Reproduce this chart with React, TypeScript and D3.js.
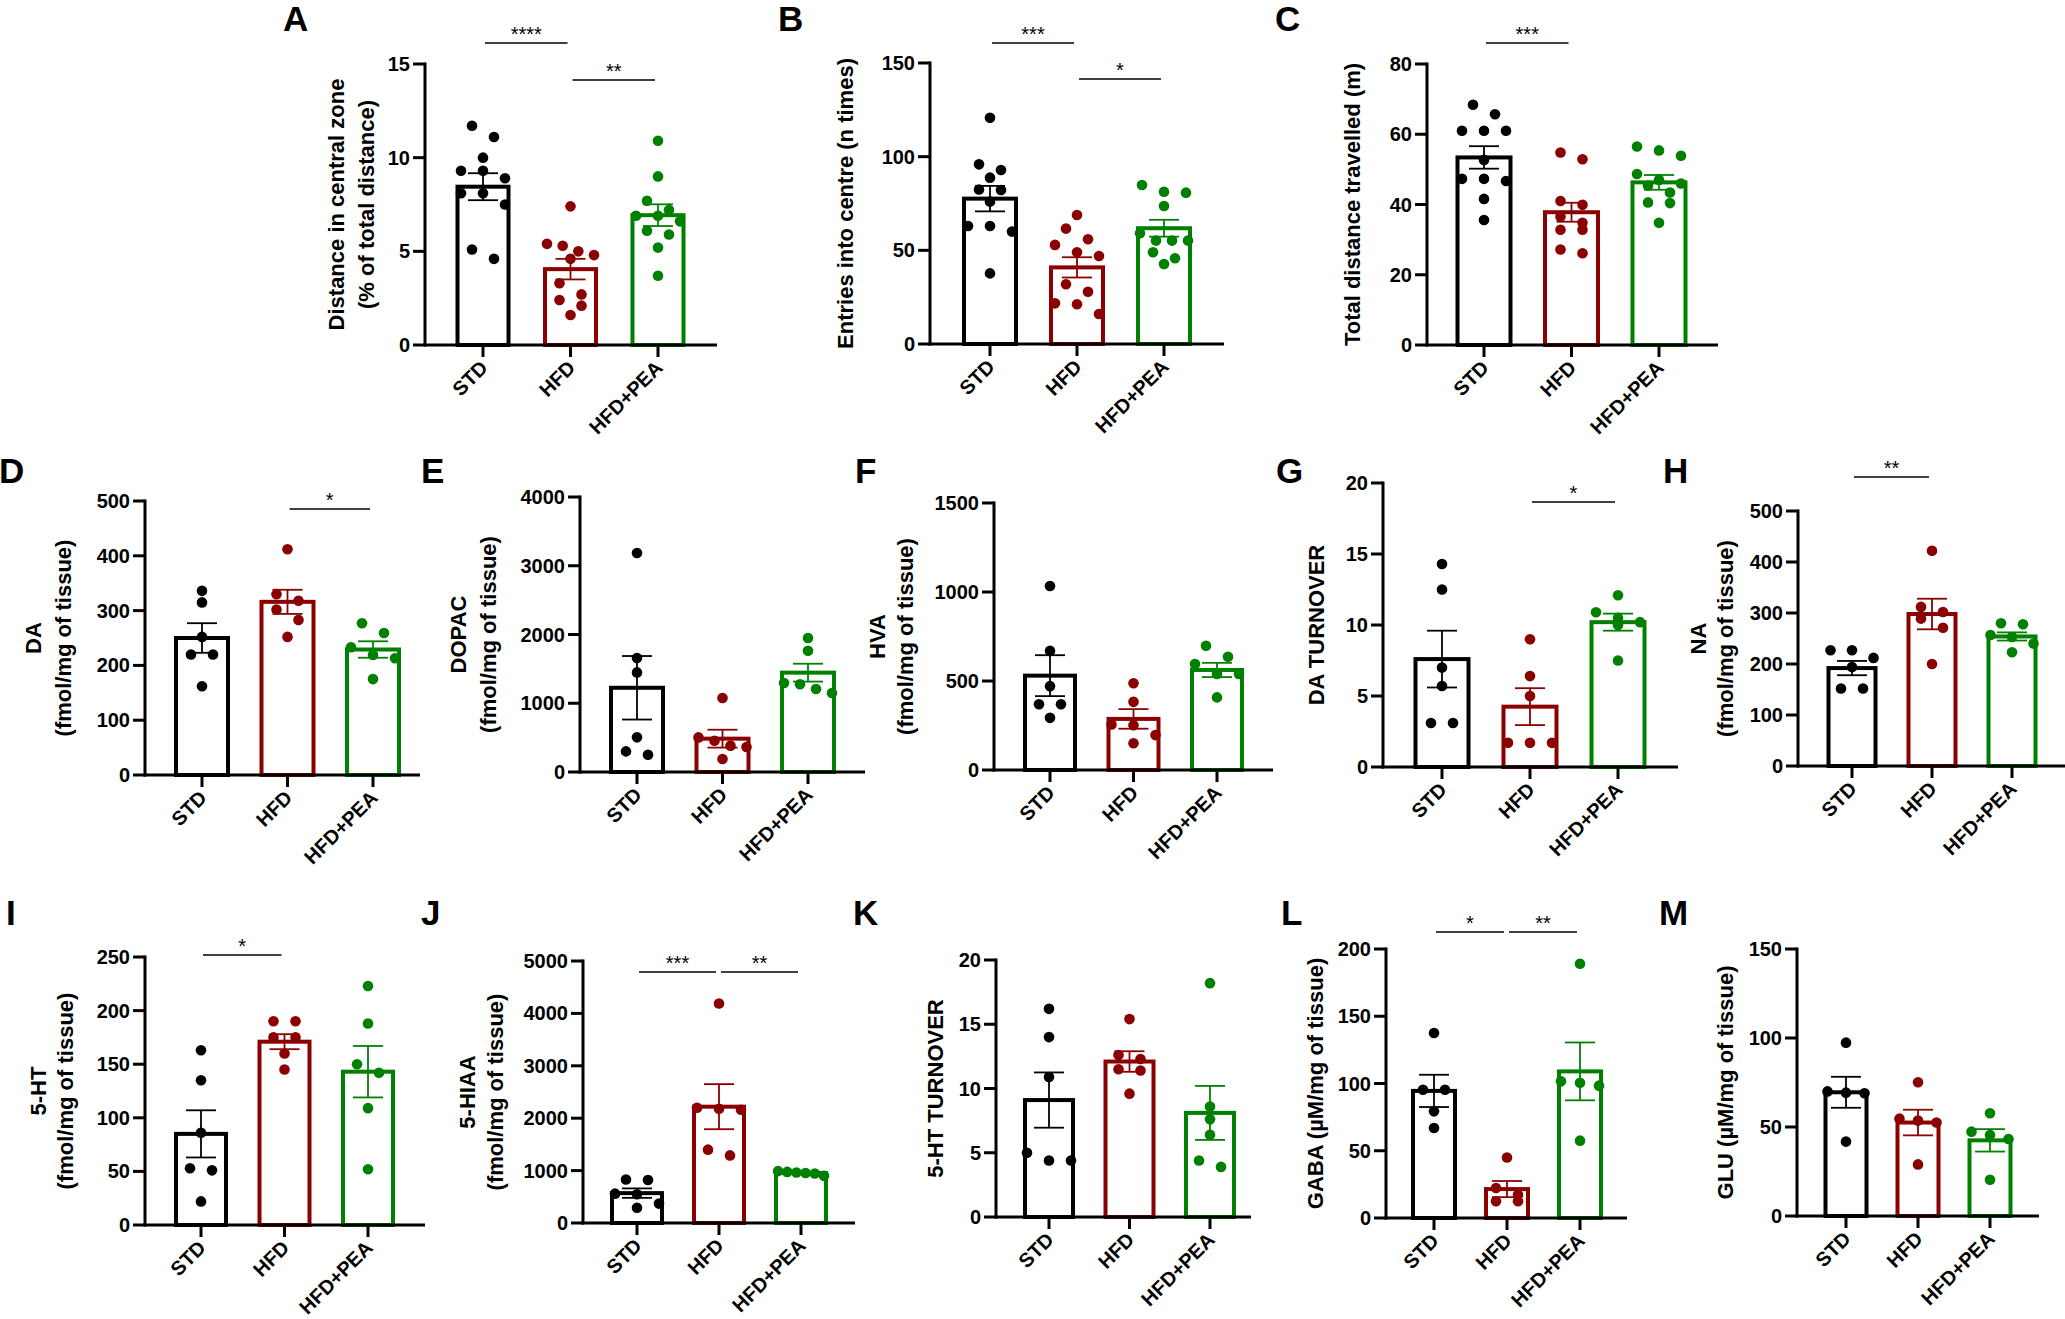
import * as d3 from "d3";
import React from "react";

const groups = ["STD", "HFD", "HFD+PEA"];
const groupColors = ["#000000", "#8b0000", "#008000"];

// A - distance in central zone
const aPoints = [
  [11.7, 11.1, 10.0, 9.3, 9.3, 8.9, 8.1, 8.1, 7.5, 5.1, 4.6],
  [7.4, 5.4, 5.3, 5.0, 4.8, 4.6, 3.3, 2.7, 2.4, 2.1, 1.6],
  [10.9, 9.0, 7.7, 7.2, 6.9, 6.9, 6.6, 6.1, 5.9, 5.2, 3.7],
];
const aMean = [8.45, 4.05, 6.93];
const aSem = [0.72, 0.55, 0.58];
const aTicks = [0, 5, 10, 15];
const aSig: [number, number, string][] = [[0, 1, "****"], [1, 2, "**"]];

// B - entries into centre
const bPoints = [
  [120.8, 95.9, 92.9, 88.8, 82.5, 82.2, 76.0, 63.0, 63.0, 60.0, 37.7],
  [68.9, 61.6, 55.9, 52.9, 49.0, 47.0, 31.9, 27.9, 21.7, 21.2, 16.0],
  [84.9, 81.3, 80.8, 73.7, 59.1, 55.2, 55.2, 55.2, 49.0, 45.8, 42.7],
];
const bMean = [77.6, 40.9, 61.8];
const bSem = [6.8, 5.4, 4.5];
const bTicks = [0, 50, 100, 150];
const bSig: [number, number, string][] = [[0, 1, "***"], [1, 2, "*"]];

// C - total distance
const cPoints = [
  [68.4, 65.7, 61.0, 61.0, 61.0, 52.7, 47.3, 47.3, 46.7, 41.6, 35.6],
  [54.8, 52.9, 41.0, 39.9, 36.6, 34.8, 32.8, 32.8, 27.2, 26.1],
  [56.5, 55.4, 53.9, 48.7, 47.0, 46.0, 45.4, 43.4, 40.6, 40.4, 34.8],
];
const cMean = [53.4, 37.8, 46.3];
const cSem = [3.2, 2.7, 2.1];
const cTicks = [0, 20, 40, 60, 80];
const cSig: [number, number, string][] = [[0, 1, "***"]];

// D - DA
const dPoints = [
  [336, 315, 252, 220, 220, 162],
  [412, 330, 318, 302, 283, 252],
  [277, 259, 233, 219, 213, 175],
];
const dMean = [250, 316, 229];
const dSem = [27, 22, 15];
const dTicks = [0, 100, 200, 300, 400, 500];
const dSig: [number, number, string][] = [[1, 2, "*"]];

// E - DOPAC
const ePoints = [
  [3185, 1658, 1449, 504, 300, 252],
  [1076, 503, 455, 383, 364, 189],
  [1949, 1764, 1294, 1277, 1207, 1149],
];
const eMean = [1225, 485, 1445];
const eSem = [462, 130, 130];
const eTicks = [0, 1000, 2000, 3000, 4000];

// F - HVA
const fPoints = [
  [1034, 669, 471, 369, 369, 293],
  [487, 383, 256, 251, 196, 150],
  [698, 636, 595, 539, 539, 408],
];
const fMean = [530, 287, 562];
const fSem = [115, 55, 40];
const fTicks = [0, 500, 1000, 1500];

// G - DA turnover
const gPoints = [
  [14.3, 12.5, 7.0, 5.7, 3.1, 3.1],
  [9.0, 6.4, 5.0, 1.7, 1.7, 1.7],
  [12.1, 10.9, 10.5, 10.2, 10.0, 7.5],
];
const gMean = [7.6, 4.25, 10.2];
const gSem = [2.0, 1.3, 0.6];
const gTicks = [0, 5, 10, 15, 20];
const gSig: [number, number, string][] = [[1, 2, "*"]];

// H - NA
const hPoints = [
  [227, 227, 212, 194, 152, 152],
  [422, 312, 302, 289, 271, 200],
  [280, 278, 257, 253, 240, 223],
];
const hMean = [192, 298, 254];
const hSem = [14, 30, 8];
const hTicks = [0, 100, 200, 300, 400, 500];
const hSig: [number, number, string][] = [[0, 1, "**"]];

// I - 5-HT
const iPoints = [
  [163, 135, 86, 53, 51, 22],
  [190, 190, 175, 175, 160, 145],
  [223, 188, 150, 142, 109, 52],
];
const iMean = [85, 171, 143];
const iSem = [22, 7, 24];
const iTicks = [0, 50, 100, 150, 200, 250];
const iSig: [number, number, string][] = [[0, 1, "*"]];

// J - 5-HIAA
const jPoints = [
  [830, 820, 560, 550, 370, 290],
  [4190, 2200, 2180, 2160, 1400, 1290],
  [990, 975, 965, 955, 945, 900],
];
const jMean = [570, 2220, 955];
const jSem = [90, 430, 15];
const jTicks = [0, 1000, 2000, 3000, 4000, 5000];
const jSig: [number, number, string][] = [[0, 1, "***"], [1, 2, "**"]];

// K - 5-HT turnover
const kPoints = [
  [16.2, 14.0, 10.9, 5.0, 4.4, 4.4],
  [15.4, 12.6, 12.3, 11.5, 11.4, 9.6],
  [18.2, 8.6, 7.6, 6.4, 4.4, 3.9],
];
const kMean = [9.1, 12.1, 8.1];
const kSem = [2.15, 0.8, 2.1];
const kTicks = [0, 5, 10, 15, 20];

// L - GABA
const lPoints = [
  [137.5, 95.4, 95.4, 79.3, 66.9],
  [45, 22.3, 17.3, 12.4, 12.4],
  [189, 101.6, 100.6, 98.4, 57.5],
];
const lMean = [94.5, 21.5, 109];
const lSem = [12, 6, 21.5];
const lTicks = [0, 50, 100, 150, 200];
const lSig: [number, number, string][] = [[0, 1, "*"], [1, 2, "**"]];

// M - GLU
const mPoints = [
  [97.4, 70, 69.3, 69, 41.8],
  [75.1, 54.7, 53.6, 52.5, 29],
  [57.7, 47.4, 45.5, 43.3, 20.4],
];
const mMean = [69.5, 52.5, 42.5];
const mSem = [8.7, 7.2, 6.3];
const mTicks = [0, 50, 100, 150];

// panel frames (layout only)
type Frame = {
  lx: number; ly: number; ax: number; y0: number; yTop: number;
  c0: number; c2: number; end: number; barW: number; tx: number[]; sigY: number[];
};
const frames: Record<string, Frame> = {
  A: { lx: 283, ly: 31, ax: 425, y0: 345, yTop: 64, c0: 483, c2: 658, end: 717, barW: 55, tx: [336, 366], sigY: [43, 80] },
  B: { lx: 778, ly: 31, ax: 930, y0: 344, yTop: 63, c0: 990, c2: 1164, end: 1224, barW: 56, tx: [845], sigY: [43, 79] },
  C: { lx: 1275, ly: 31, ax: 1427, y0: 345, yTop: 64, c0: 1484, c2: 1659, end: 1718, barW: 57, tx: [1352], sigY: [43] },
  D: { lx: -1, ly: 483, ax: 145, y0: 775, yTop: 501, c0: 202, c2: 373, end: 420, barW: 56, tx: [33, 63], sigY: [509] },
  E: { lx: 421, ly: 483, ax: 580, y0: 772, yTop: 497, c0: 637, c2: 808, end: 865, barW: 56, tx: [458, 488], sigY: [] },
  F: { lx: 855, ly: 483, ax: 994, y0: 770, yTop: 503, c0: 1050, c2: 1217, end: 1273, barW: 54, tx: [877, 905], sigY: [] },
  G: { lx: 1276, ly: 483, ax: 1383, y0: 767, yTop: 483, c0: 1442, c2: 1618, end: 1678, barW: 57, tx: [1316], sigY: [502] },
  H: { lx: 1663, ly: 483, ax: 1798, y0: 766, yTop: 511, c0: 1852, c2: 2012, end: 2065, barW: 51, tx: [1698, 1725], sigY: [477] },
  I: { lx: 6, ly: 925, ax: 145, y0: 1225, yTop: 957, c0: 201, c2: 368, end: 425, barW: 54, tx: [38, 65], sigY: [955] },
  J: { lx: 421, ly: 925, ax: 583, y0: 1223, yTop: 961, c0: 637, c2: 801, end: 855, barW: 54, tx: [467, 495], sigY: [972, 972] },
  K: { lx: 853, ly: 925, ax: 996, y0: 1217, yTop: 960, c0: 1049, c2: 1210, end: 1251, barW: 52, tx: [935], sigY: [] },
  L: { lx: 1281, ly: 925, ax: 1386, y0: 1218, yTop: 949, c0: 1434, c2: 1580, end: 1627, barW: 46, tx: [1315], sigY: [932, 932] },
  M: { lx: 1659, ly: 925, ax: 1797, y0: 1216, yTop: 949, c0: 1846, c2: 1990, end: 2039, barW: 45, tx: [1725], sigY: [] },
};

const panels = [
  { id: "A", title: ["Distance in central zone", "(% of total distance)"], points: aPoints, mean: aMean, sem: aSem, ticks: aTicks, sig: aSig },
  { id: "B", title: ["Entries into centre (n times)"], points: bPoints, mean: bMean, sem: bSem, ticks: bTicks, sig: bSig },
  { id: "C", title: ["Total distance travelled (m)"], points: cPoints, mean: cMean, sem: cSem, ticks: cTicks, sig: cSig },
  { id: "D", title: ["DA", "(fmol/mg of tissue)"], points: dPoints, mean: dMean, sem: dSem, ticks: dTicks, sig: dSig },
  { id: "E", title: ["DOPAC", "(fmol/mg of tissue)"], points: ePoints, mean: eMean, sem: eSem, ticks: eTicks, sig: [] },
  { id: "F", title: ["HVA", "(fmol/mg of tissue)"], points: fPoints, mean: fMean, sem: fSem, ticks: fTicks, sig: [] },
  { id: "G", title: ["DA TURNOVER"], points: gPoints, mean: gMean, sem: gSem, ticks: gTicks, sig: gSig },
  { id: "H", title: ["NA", "(fmol/mg of tissue)"], points: hPoints, mean: hMean, sem: hSem, ticks: hTicks, sig: hSig },
  { id: "I", title: ["5-HT", "(fmol/mg of tissue)"], points: iPoints, mean: iMean, sem: iSem, ticks: iTicks, sig: iSig },
  { id: "J", title: ["5-HIAA", "(fmol/mg of tissue)"], points: jPoints, mean: jMean, sem: jSem, ticks: jTicks, sig: jSig },
  { id: "K", title: ["5-HT TURNOVER"], points: kPoints, mean: kMean, sem: kSem, ticks: kTicks, sig: [] },
  { id: "L", title: ["GABA (µM/mg of tissue)"], points: lPoints, mean: lMean, sem: lSem, ticks: lTicks, sig: lSig },
  { id: "M", title: ["GLU (µM/mg of tissue)"], points: mPoints, mean: mMean, sem: mSem, ticks: mTicks, sig: [] },
];

const FONT = "'Liberation Sans', Arial, Helvetica, sans-serif";
const R = 5.3;

// prism-like scatter: points close in height share a row, centred on the bar
function swarm(values: number[], y: (v: number) => number, halfMax: number) {
  const spacing = 22;
  const order = values.map((_, i) => i).sort((a, b) => values[b] - values[a]);
  const rows: { top: number; items: number[] }[] = [];
  let cur: { top: number; items: number[] } | null = null;
  for (const i of order) {
    const py = y(values[i]);
    if (cur && py - cur.top < 11.5) cur.items.push(i);
    else {
      cur = { top: py, items: [i] };
      rows.push(cur);
    }
  }
  const off = new Array(values.length).fill(0);
  rows.forEach((r) => {
    const n = r.items.length;
    let s = spacing;
    if (n > 1 && ((n - 1) / 2) * s > halfMax) s = (halfMax * 2) / (n - 1);
    r.items.forEach((i, k) => (off[i] = (k - (n - 1) / 2) * s));
  });
  return off;
}

function Panel({ p }: { p: (typeof panels)[number] }) {
  const f = frames[p.id];
  const y = d3.scaleLinear().domain([0, p.ticks[p.ticks.length - 1]]).range([f.y0, f.yTop]);
  const x = d3.scalePoint<string>().domain(groups).range([f.c0, f.c2]);
  const yMid = (f.y0 + f.yTop) / 2;
  const capW = 30;
  return (
    <g>
      <text x={f.lx} y={f.ly} fontSize={35} fontWeight={700}>{p.id}</text>

      {p.title.map((t, i) => (
        <text key={i} transform={`translate(${f.tx[i]},${yMid}) rotate(-90)`} textAnchor="middle"
          dominantBaseline="central" fontSize={22} fontWeight={700}>{t}</text>
      ))}

      {groups.map((g, gi) => {
        const cx = x(g)!;
        const col = groupColors[gi];
        const inner = f.barW - 4;
        const off = swarm(p.points[gi], y, f.barW / 2 - 4);
        const m = p.mean[gi];
        const s = p.sem[gi];
        return (
          <g key={g}>
            <rect x={cx - inner / 2} y={y(m)} width={inner} height={f.y0 - y(m)}
              fill="#fff" stroke={col} strokeWidth={4} />
            {p.points[gi].map((v, k) => (
              <circle key={k} cx={cx + off[k]} cy={y(v)} r={R} fill={col} />
            ))}
            <g stroke={col} strokeWidth={1.8}>
              <line x1={cx} x2={cx} y1={y(m - s)} y2={y(m + s)} />
              <line x1={cx - capW / 2} x2={cx + capW / 2} y1={y(m + s)} y2={y(m + s)} />
              <line x1={cx - capW / 2} x2={cx + capW / 2} y1={y(m - s)} y2={y(m - s)} />
            </g>
          </g>
        );
      })}

      {/* y axis */}
      <line x1={f.ax} x2={f.ax} y1={f.y0 + 1.5} y2={f.yTop - 1.5} stroke="#000" strokeWidth={3} />
      {p.ticks.map((t) => (
        <g key={t}>
          <line x1={f.ax - 12} x2={f.ax} y1={y(t)} y2={y(t)} stroke="#000" strokeWidth={3} />
          <text x={f.ax - 15} y={y(t)} textAnchor="end" dominantBaseline="central"
            fontSize={20} fontWeight={700}>{t}</text>
        </g>
      ))}

      {/* x axis */}
      <line x1={f.ax - 1.5} x2={f.end} y1={f.y0} y2={f.y0} stroke="#000" strokeWidth={3} />
      {groups.map((g) => (
        <g key={g}>
          <line x1={x(g)} x2={x(g)} y1={f.y0} y2={f.y0 + 12} stroke="#000" strokeWidth={3} />
          <text transform={`translate(${x(g)! + 6},${f.y0 + 24}) rotate(-45)`} textAnchor="end"
            fontSize={20} fontWeight={700}>{g}</text>
        </g>
      ))}

      {/* significance */}
      {p.sig.map(([a, b, txt], i) => {
        const x1 = x(groups[a])! + 2;
        const x2 = x(groups[b])! - 3;
        const sy = f.sigY[i];
        return (
          <g key={i}>
            <line x1={x1} x2={x2} y1={sy} y2={sy} stroke="#000" strokeWidth={1.5} />
            <text x={(x1 + x2) / 2} y={sy - 2} textAnchor="middle" fontSize={20}>{txt}</text>
          </g>
        );
      })}
    </g>
  );
}

export default function App() {
  return (
    <svg width={2065} height={1319} style={{ position: "absolute", left: 0, top: 0, background: "#fff" }}
      fontFamily={FONT}>
      <rect width={2065} height={1319} fill="#fff" />
      {panels.map((p) => (
        <Panel key={p.id} p={p} />
      ))}
    </svg>
  );
}
